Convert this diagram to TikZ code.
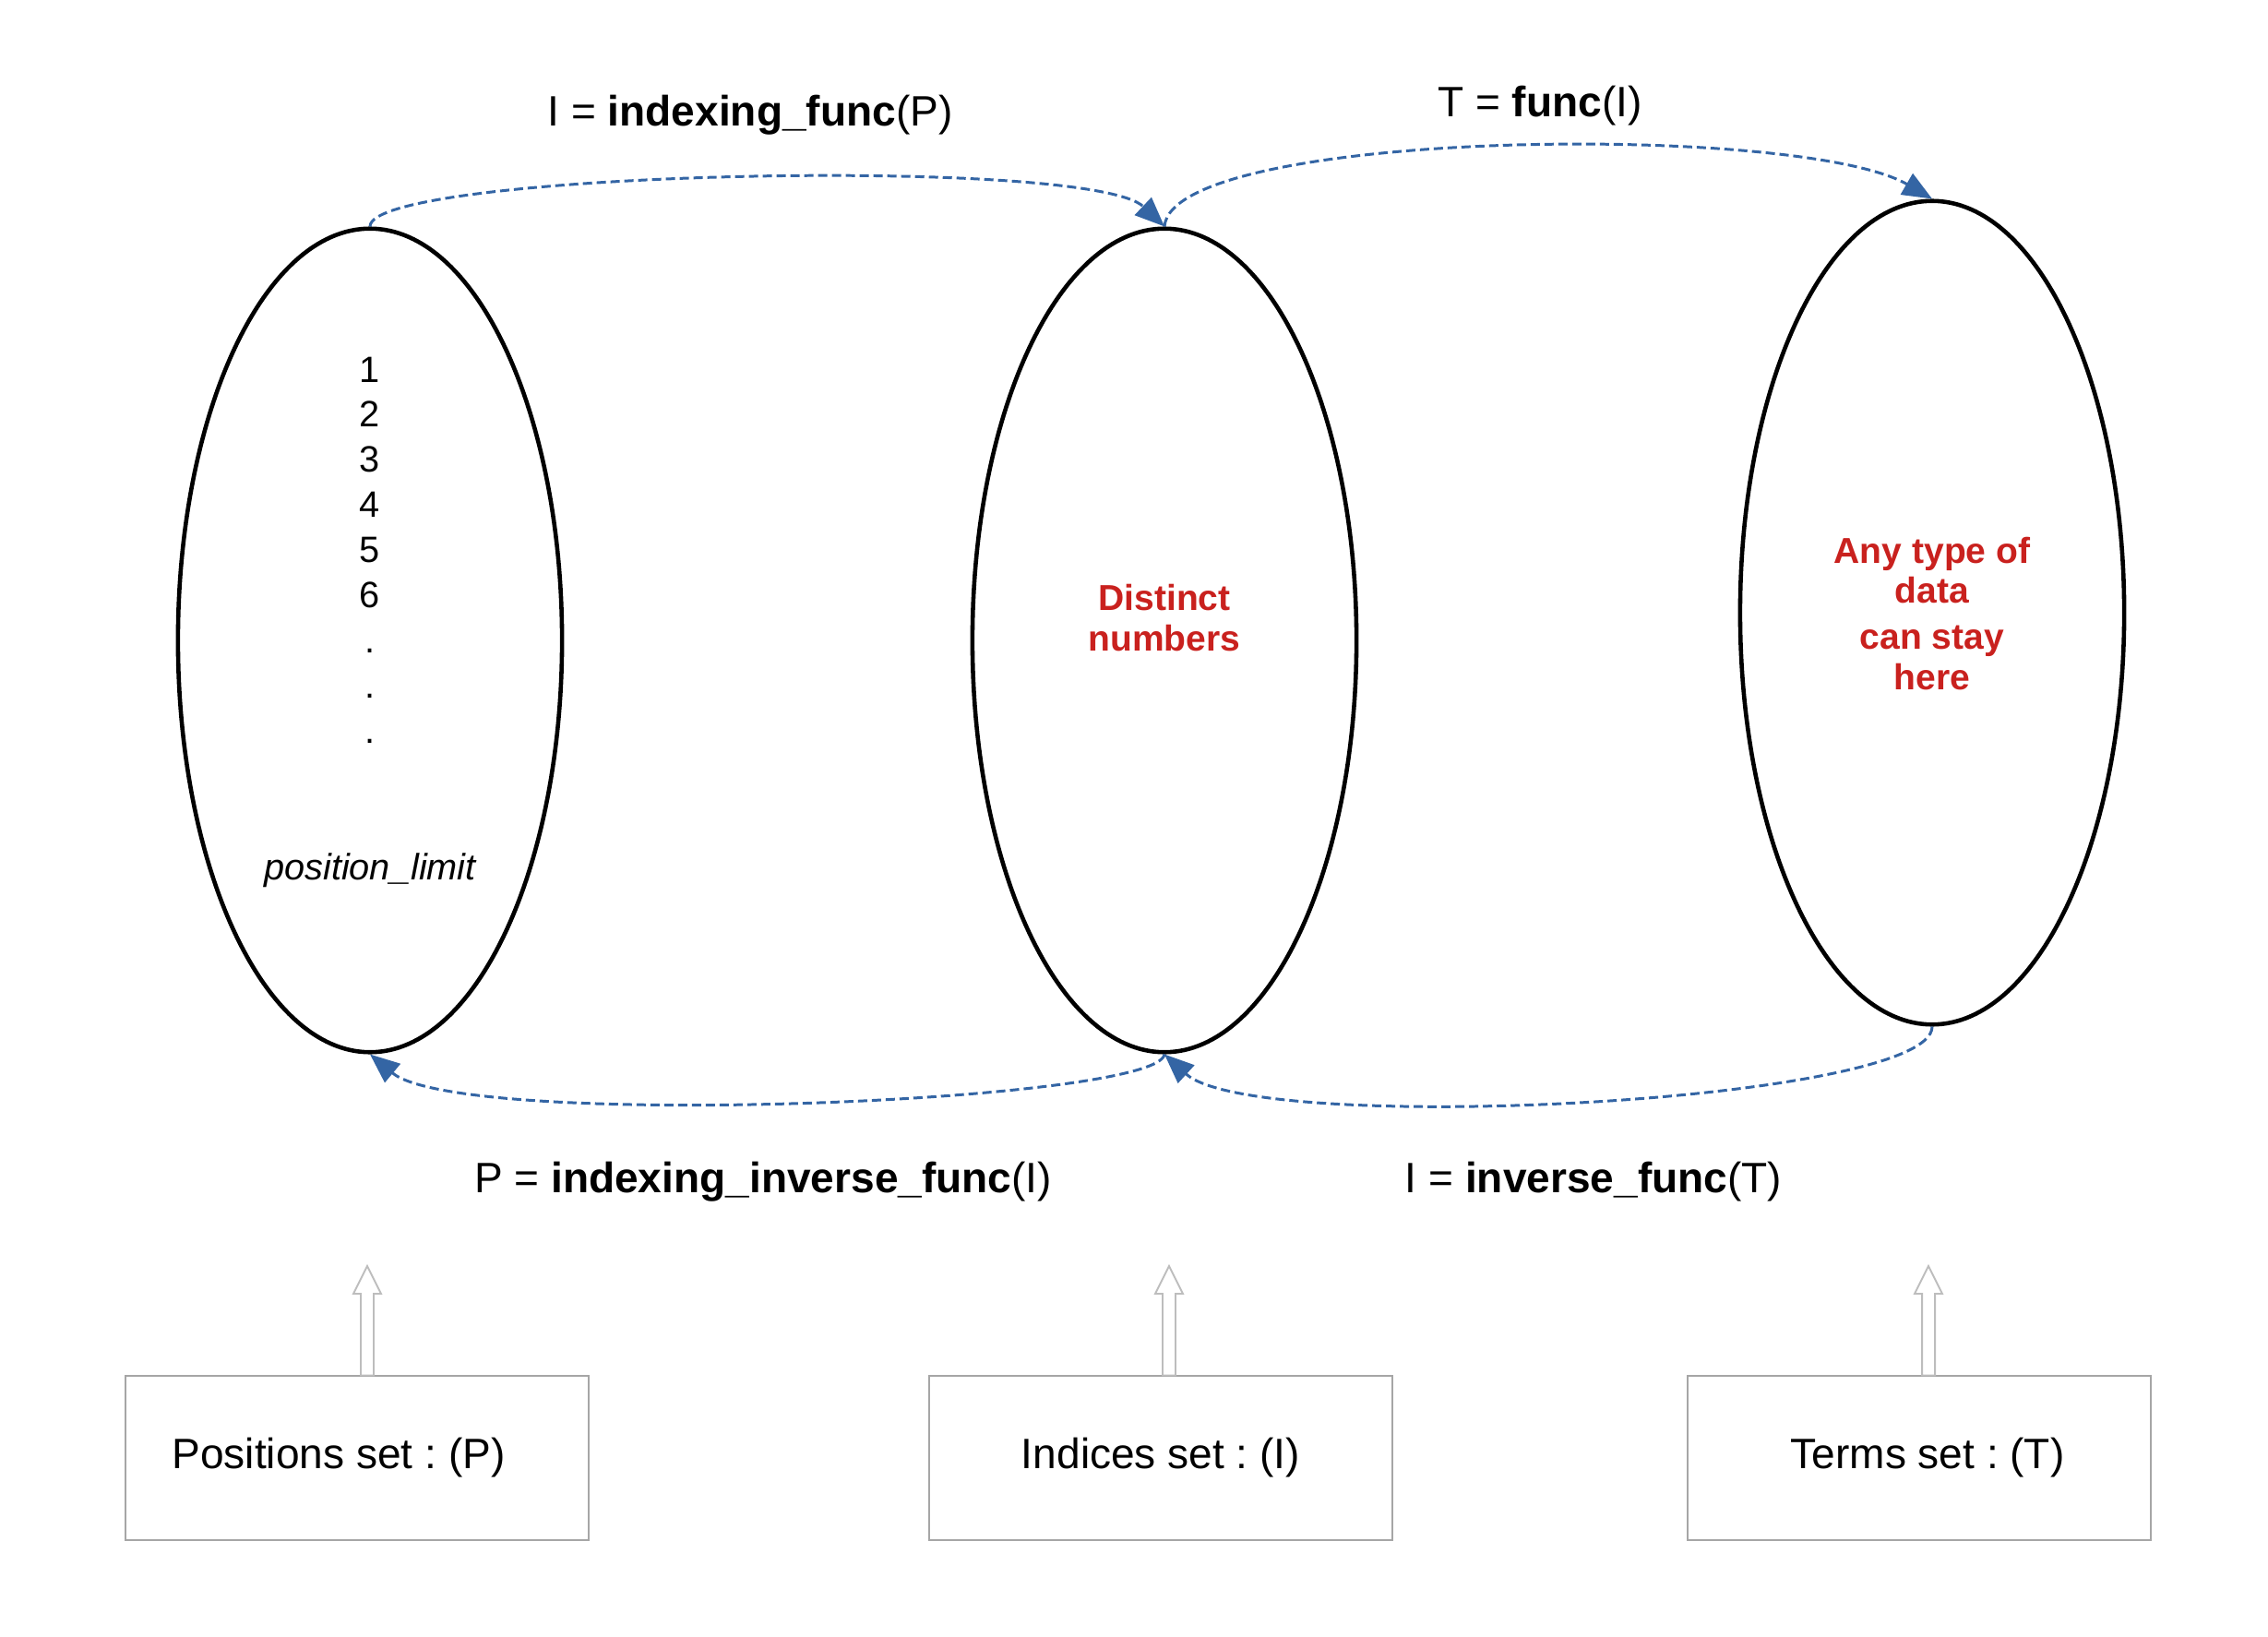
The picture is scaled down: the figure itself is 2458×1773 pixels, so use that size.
\documentclass[tikz,border=0pt]{standalone}
\usepackage{fontspec}
\setmainfont{Liberation Sans}
\frenchspacing
\usetikzlibrary{arrows.meta,shapes.geometric,calc}
\definecolor{arrowblue}{HTML}{3465A4}
\definecolor{redtxt}{HTML}{C9211E}
\definecolor{boxgray}{HTML}{A6A6A6}
\definecolor{hollowgray}{HTML}{BDBDBD}
\begin{document}
\begin{tikzpicture}[x=0.01cm,y=-0.01cm,
  setell/.style={draw, ellipse, line width=1.3pt, minimum width=4.16cm, minimum height=8.92cm, inner sep=0pt},
  mapline/.style={arrowblue, line width=0.85pt, dash pattern=on 0.1cm off 0.05cm, -{Triangle[length=0.32cm,width=0.26cm]}},
  funlabel/.style={font=\fontsize{13.1pt}{15pt}\selectfont, inner sep=0pt, anchor=base},
  setbox/.style={draw=boxgray, line width=0.55pt, minimum width=5.02cm, minimum height=1.77cm, inner sep=0pt, font=\fontsize{13.1pt}{15pt}\selectfont},
  numtext/.style={font=\fontsize{11.3pt}{13.9pt}\selectfont, align=center, inner sep=0pt},
  redtext/.style={text=redtxt, font=\fontsize{11.1pt}{12.5pt}\selectfont\bfseries, align=center, inner sep=0pt},
  hollow/.style={draw=hollowgray, fill=white, line width=0.55pt}
]
\useasboundingbox (0,0) rectangle (2458,1773);

% sets
\node[setell] (e1) at (401,694) {};
\node[setell] (e2) at (1262,694) {};
\node[setell] (e3) at (2094,664) {};

% contents
\node[numtext, anchor=north] (nums) at (401,386) {1\\2\\3\\4\\5\\6\\.\\.\\.};
\node[numtext, anchor=base] (plim) at (401,953) {\itshape position\_limit};
\node[redtext] (dist) at (1262,670) {Distinct\\numbers};
\node[redtext] (anyt) at (2094,665) {Any type of\\data\\[0.06cm]can stay\\here};

% mappings
\draw[mapline] (e1.north) .. controls (401,186) and (1180,168) .. (e2.north);
\draw[mapline] (e2.north) .. controls (1270,140) and (1950,132) .. (e3.north);
\draw[mapline] (e2.south) .. controls (1255,1195) and (500,1225) .. (e1.south);
\draw[mapline] (e3.south) .. controls (2094,1195) and (1360,1232) .. (e2.south);

% labels
\node[funlabel] (l1) at (813,137) {I = \textbf{indexing\_func}(P)};
\node[funlabel] (l2) at (1669,127) {T = \textbf{func}(I)};
\node[funlabel] (l3) at (827,1292) {P = \textbf{indexing\_inverse\_func}(I)};
\node[funlabel] (l4) at (1727,1292) {I = \textbf{inverse\_func}(T)};

% boxes
\node[setbox] (b1) at (387,1580) {\hspace*{-0.4cm}Positions set : (P)};
\node[setbox] (b2) at (1258,1580) {Indices set : (I)};
\node[setbox] (b3) at (2080,1580) {\hspace*{0.18cm}Terms set : (T)};

% hollow arrows
\coordinate (t1) at (398,1372);
\coordinate (t2) at (1267,1372);
\coordinate (t3) at (2090,1372);
\foreach \t/\b in {t1/b1,t2/b2,t3/b3}{
  \draw[hollow] (\t) -- ++(15,30) -- ++(-8,0) -- ($(\t |- \b.north)+(7,0)$) -- ++(-14,0) -- ($(\t)+(-7,30)$) -- ++(-8,0) -- cycle;
}
\end{tikzpicture}
\end{document}
